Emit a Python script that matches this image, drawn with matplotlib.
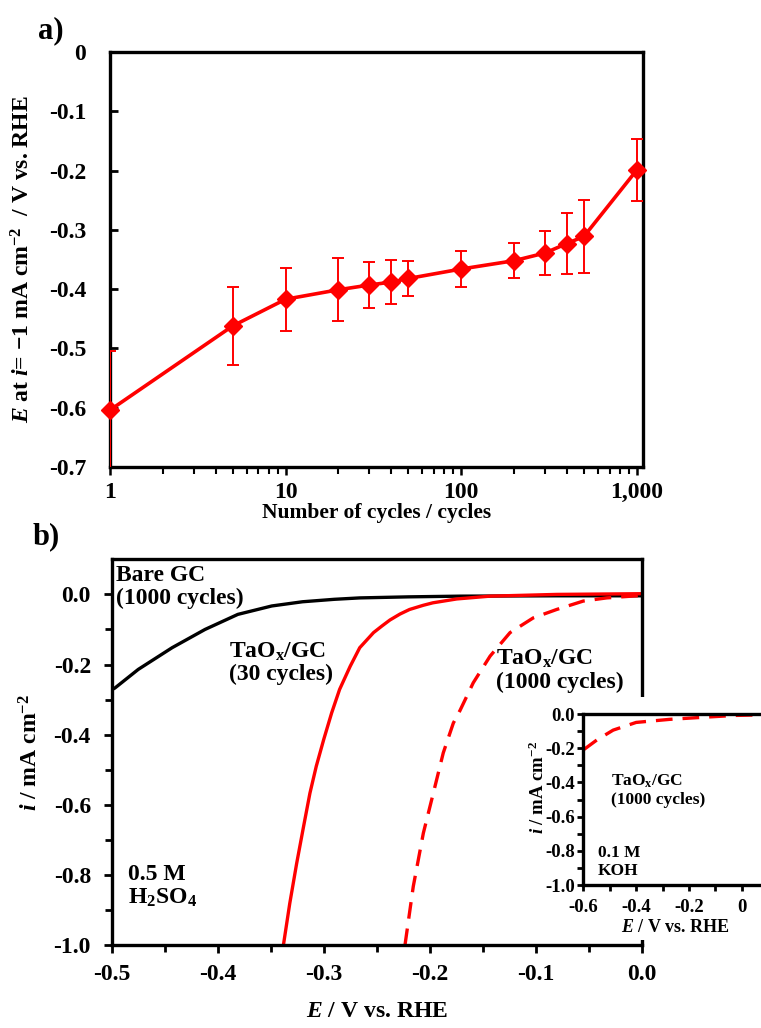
import matplotlib
matplotlib.use('Agg')
from matplotlib import pyplot as plt
from matplotlib.patches import Rectangle
from matplotlib.ticker import FixedLocator, MultipleLocator, FuncFormatter
import numpy as np

plt.rcParams['font.family'] = ['Liberation Serif', 'DejaVu Serif']
plt.rcParams['font.weight'] = 'bold'
plt.rcParams['axes.labelweight'] = 'bold'
plt.rcParams['mathtext.fontset'] = 'custom'
plt.rcParams['mathtext.rm'] = 'Liberation Serif:bold'
plt.rcParams['mathtext.it'] = 'Liberation Serif:italic:bold'
plt.rcParams['mathtext.bf'] = 'Liberation Serif:bold'
plt.rcParams['axes.unicode_minus'] = False

# panel a: potential at -1 mA cm-2 vs number of cycles
cycles = [1, 5, 10, 20, 30, 40, 50, 100, 200, 300, 400, 500, 1000]
e_at_1ma = [-0.604, -0.462, -0.417, -0.401, -0.393, -0.388, -0.382,
            -0.366, -0.352, -0.339, -0.323, -0.311, -0.199]
e_err = [0.10, 0.066, 0.053, 0.053, 0.038, 0.037, 0.029,
         0.030, 0.030, 0.037, 0.052, 0.062, 0.053]
a_xticks = [1, 10, 100, 1000]
a_xticklabels = ['1', '10', '100', '1,000']

# panel b: LSV curves in 0.5 M H2SO4
bare_e = [-0.500, -0.497, -0.475, -0.443, -0.412, -0.381, -0.349, -0.320,
          -0.290, -0.266, -0.220, -0.171, -0.080, 0.000]
bare_i = [-0.272, -0.267, -0.214, -0.152, -0.100, -0.057, -0.033, -0.021,
          -0.014, -0.010, -0.007, -0.005, -0.004, -0.004]
tao30_e = [-0.338, -0.332, -0.3255, -0.319, -0.313, -0.307, -0.300, -0.2925,
           -0.285, -0.275, -0.266, -0.253, -0.245, -0.2375, -0.228, -0.219,
           -0.206, -0.197, -0.1745, -0.143, -0.080, 0.000]
tao30_i = [-1.000, -0.881, -0.767, -0.662, -0.567, -0.490, -0.414, -0.338,
           -0.271, -0.205, -0.152, -0.109, -0.090, -0.073, -0.056, -0.043,
           -0.031, -0.024, -0.013, -0.005, 0.000, 0.002]
tao1000_e = [-0.2233, -0.2155, -0.206, -0.1966, -0.1872, -0.1777,
             -0.1714, -0.1589, -0.143, -0.1242, -0.1023, -0.0802, -0.0551,
             -0.033, 0.000]
tao1000_i = [-1.000, -0.833, -0.681, -0.567, -0.452, -0.367,
             -0.331, -0.252, -0.176, -0.109, -0.067, -0.043, -0.019,
             -0.010, -0.003]

# inset: 0.1 M KOH
koh_e = [-0.600, -0.549, -0.487, -0.400, -0.273, -0.147, -0.025, 0.070]
koh_i = [-0.210, -0.152, -0.094, -0.049, -0.031, -0.019, -0.008, -0.005]

RED = '#ff0000'


def dec_fmt(v, pos):
    if abs(v) < 1e-9:
        return '0'
    return f'{v:.1f}'


def one_dec(v, pos):
    return '0.0' if abs(v) < 1e-9 else f'{v:.1f}'


fig = plt.figure(figsize=(7.61, 10.28), dpi=100)

# ---- panel a ----
ax = fig.add_axes([0.1445, 0.5457, 0.7005, 0.4037])
ax.set_xscale('log')
ax.set_xlim(1, 1085)
ax.set_ylim(-0.7, 0)
ax.errorbar(cycles, e_at_1ma, yerr=e_err, fmt='none', ecolor=RED,
            elinewidth=1.4, capsize=4, capthick=1.4, zorder=3)
ax.plot(cycles, e_at_1ma, '-D', color=RED, lw=2.6, ms=9, clip_on=False, zorder=4)
ax.xaxis.set_major_locator(FixedLocator(a_xticks))
ax.set_xticklabels(a_xticklabels)
ax.set_yticks(np.arange(-0.7, 0.01, 0.1))
ax.yaxis.set_major_formatter(FuncFormatter(dec_fmt))
ax.tick_params(axis='y', direction='in', length=6, width=2, pad=17, labelsize=17)
ax.tick_params(axis='x', which='major', direction='out', length=6, width=1.8,
               pad=5, labelsize=17)
ax.tick_params(axis='x', which='minor', direction='out', length=5, width=1.5)
for s in ax.spines.values():
    s.set_linewidth(2.4)
ax.set_xlabel('Number of cycles / cycles', fontsize=15.5, labelpad=0)
ax.set_ylabel(r'$E$ at $i$= −1 mA cm$^{-2}$  / V vs. RHE', fontsize=17)
ax.yaxis.set_label_coords(-0.142, 0.5)
fig.text(0.05, 0.970, 'a)', fontsize=22, ha='left', va='center')

# ---- panel b ----
bx = fig.add_axes([0.1468, 0.0807, 0.6964, 0.3752])
bx.set_xlim(-0.5, 0.0)
bx.set_ylim(-1.0, 0.1)
bx.plot(bare_e, bare_i, color='black', lw=2.4)
bx.plot(tao30_e, tao30_i, color=RED, lw=2.4)
bx.plot(tao1000_e, tao1000_i, color=RED, lw=2.4, ls=(0, (5, 3)))
bx.set_xticks(np.arange(-0.5, 0.01, 0.1))
bx.xaxis.set_minor_locator(MultipleLocator(0.05))
bx.set_yticks(np.arange(-1.0, 0.01, 0.2))
bx.yaxis.set_minor_locator(FixedLocator(np.arange(-0.9, 0.0, 0.2)))
bx.xaxis.set_major_formatter(FuncFormatter(one_dec))
bx.yaxis.set_major_formatter(FuncFormatter(one_dec))
bx.tick_params(axis='both', which='major', direction='out', length=6, width=2,
               labelsize=17)
bx.tick_params(axis='both', which='minor', direction='out', length=5, width=2)
bx.tick_params(axis='y', pad=9)
bx.tick_params(axis='x', pad=8)
for s in bx.spines.values():
    s.set_linewidth(2.4)
bx.set_xlabel(r'$E$ / V vs. RHE', fontsize=17, labelpad=11)
bx.set_ylabel(r'$i$ / mA cm$^{-2}$', fontsize=17)
bx.yaxis.set_label_coords(-0.13, 0.5)
fig.text(0.043, 0.478, 'b)', fontsize=22, ha='left', va='center')

bx.text(0.008, 0.985, 'Bare GC\n(1000 cycles)', transform=bx.transAxes,
        fontsize=17, ha='left', va='top', linespacing=1.1)
bx.text(0.222, 0.79, 'TaO$_{\\mathrm{x}}$/GC\n(30 cycles)', transform=bx.transAxes,
        fontsize=17, ha='left', va='top', linespacing=1.1)
bx.text(0.725, 0.77, 'TaO$_{\\mathrm{x}}$/GC\n(1000 cycles)', transform=bx.transAxes,
        fontsize=17, ha='left', va='top', linespacing=1.1)
bx.text(0.030, 0.21, '0.5 M\nH$_{2}$SO$_{4}$', transform=bx.transAxes,
        fontsize=17, ha='left', va='top', linespacing=1.1)

# white box behind inset
fig.patches.append(Rectangle((0.69, 0.0856), 0.32, 0.236, transform=fig.transFigure,
                             facecolor='white', edgecolor='none', zorder=1))

# ---- inset ----
ix = fig.add_axes([0.7665, 0.1391, 0.2430, 0.1663])
ix.set_zorder(2)
ix.set_xlim(-0.6, 0.1)
ix.set_ylim(-1.0, 0.0)
ix.plot(koh_e, koh_i, color=RED, lw=2.4, ls=(0, (5, 3)))
ix.set_xticks([-0.6, -0.4, -0.2, 0.0])
ix.xaxis.set_minor_locator(FixedLocator([-0.5, -0.3, -0.1]))
ix.set_yticks(np.arange(-1.0, 0.01, 0.2))
ix.yaxis.set_minor_locator(FixedLocator(np.arange(-0.9, 0.0, 0.2)))
ix.xaxis.set_major_formatter(FuncFormatter(dec_fmt))
ix.yaxis.set_major_formatter(FuncFormatter(one_dec))
ix.tick_params(axis='both', which='both', direction='out', length=4, width=2,
               labelsize=13.5)
ix.tick_params(axis='y', pad=2)
ix.tick_params(axis='x', pad=6)
for s in ix.spines.values():
    s.set_linewidth(2.4)
ix.set_xlabel(r'$E$ / V vs. RHE', fontsize=13, labelpad=2)
ix.set_ylabel(r'$i$ / mA cm$^{-2}$', fontsize=13.5)
ix.yaxis.set_label_coords(-0.19, 0.57)
ix.text(0.15, 0.66, 'TaO$_{\\mathrm{x}}$/GC\n(1000 cycles)', transform=ix.transAxes,
        fontsize=12.5, ha='left', va='top', linespacing=1.2)
ix.text(0.08, 0.235, '0.1 M\nKOH', transform=ix.transAxes,
        fontsize=12.5, ha='left', va='top', linespacing=1.2)

fig.savefig('out.png', dpi=100)
